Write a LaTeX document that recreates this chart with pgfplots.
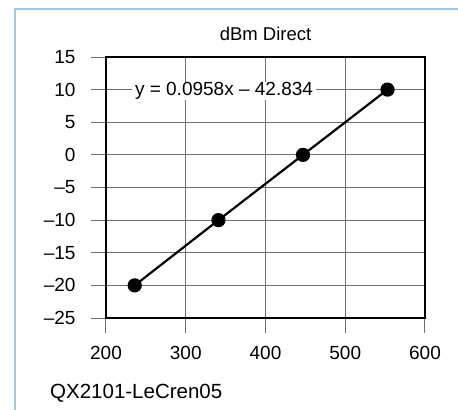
\documentclass[border=0pt]{standalone}
\usepackage{pgfplots}
\pgfplotsset{compat=1.18}
\usepackage{fontspec}
\setmainfont{Liberation Sans}
\definecolor{framecol}{HTML}{9CCFE0}
\definecolor{gridcol}{HTML}{707070}
\begin{document}
\begin{tikzpicture}
\useasboundingbox (-106bp,-92bp) rectangle (352bp,318bp);
\fill[white] (-106bp,-92bp) rectangle (352bp,318bp);
\draw[framecol, line width=2bp] (353bp,309bp) -- (-91bp,309bp) -- (-91bp,-93bp);
\begin{axis}[
  at={(0,0)}, anchor=south west,
  scale only axis, width=319bp, height=261bp,
  xmin=200, xmax=600, ymin=-25, ymax=15,
  xtick={200,300,...,600}, ytick={-25,-20,...,15},
  yticklabels={–25,–20,–15,–10,–5,0,5,10,15},
  xticklabels={200,300,400,500,600},
  minor tick num=0,
  tick pos=left,
  tick align=outside,
  major tick length=15bp,
  every tick/.style={gridcol, line width=1bp},
  xmajorgrids, ymajorgrids,
  grid style={gridcol, line width=1bp},
  axis line style={black, line width=2.2bp},
  tick label style={font=\fontsize{19bp}{22bp}\selectfont},
  yticklabel style={xshift=-12bp},
  xticklabel style={yshift=-10bp},
  clip=false,
]
\addplot[black, line width=2.2bp, mark=*, mark size=6bp, mark options={fill=black}]
  coordinates {(236,-20) (341,-10) (447,0) (553,10)};
\node[anchor=base, fill=white, inner xsep=3bp, inner ysep=0bp, yshift=-6bp,
  font=\fontsize{19bp}{22bp}\selectfont] at (axis cs:348,10)
  {y = 0.0958x – 42.834};
\node[anchor=base, font=\fontsize{18.5bp}{22bp}\selectfont] at (rel axis cs:0.5,1) [yshift=17bp] {dBm Direct};
\end{axis}
\node[anchor=base west, inner sep=0pt, font=\fontsize{20.5bp}{24bp}\selectfont] at (-56bp,-80bp) {QX2101-LeCren05};
\end{tikzpicture}
\end{document}
